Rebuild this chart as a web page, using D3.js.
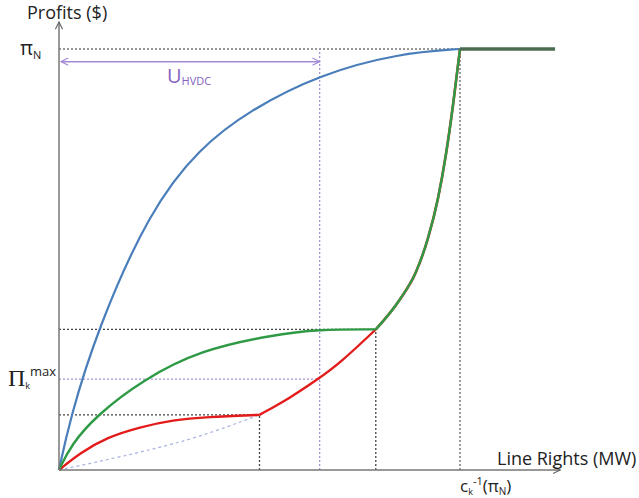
<!DOCTYPE html>
<html>
<head>
<meta charset="utf-8">
<script src="https://cdn.jsdelivr.net/npm/d3@7"></script>
<style>
  html, body { margin: 0; padding: 0; background: #fff; }
  svg { display: block; }
  text { font-family: "Open Sans", "Liberation Sans", sans-serif; fill: #222; }
</style>
</head>
<body>
<svg id="chart" width="639" height="498"></svg>
<script>
// Reference levels (profit units, pi_N = 100) and line-right breakpoints (MW units)
const piN = 100;
const greenPlateau = 33.4;
const piKmax = 21.6;
const redPlateau = 13.1;
const redKneeX = 50;
const uHvdcX = 65;
const greenKneeX = 79;
const capX = 100;
const axisEndX = 125;
const flatEndX = 123.7;

// HVDC profit curve (concave, saturates at pi_N)
const bluePts = [[0,0],[2.7,12],[9.5,33.3],[22.7,61.8],[35,76.5],[47.6,85.5],[65,94],[85,99],[100,100]];
// Merchant line, no cap: concave rise to a plateau, then convex rise
const greenLow = [[0,0],[3,6],[9.5,13.1],[20.9,21.4],[35.2,28.5],[53.4,32.1],[64.6,33.4],[79,33.4]];
const greenHigh = [[79,33.4],[85,40.5],[89,47],[92,55],[94.5,64.5],[96.5,75],[98.3,87],[100,100]];
// Capped merchant line
const redLow = [[0,0],[5.2,4.0],[12,7.8],[20.2,10.2],[28.4,11.9],[36.9,12.6],[50,13.1]];
const redMid = [[50,13.1],[57.6,17.1],[64.6,21.6],[70.1,25.4],[79,33.4]];
// Convex benchmark (dashed)
const dashPts = [[0,0],[10,2],[22,4.6],[35,7.8],[50,13.1]];

const svg = d3.select("#chart");
const x = d3.scaleLinear().domain([0, 100]).range([59, 460]);
const y = d3.scaleLinear().domain([0, 100]).range([470, 49]);

const defs = svg.append("defs");
function marker(id, color, orient) {
  defs.append("marker")
    .attr("id", id).attr("viewBox", "0 0 10 10")
    .attr("refX", 9).attr("refY", 5)
    .attr("markerWidth", 9).attr("markerHeight", 9)
    .attr("markerUnits", "userSpaceOnUse")
    .attr("orient", orient)
    .append("path").attr("d", "M1,1 L9,5 L1,9")
    .attr("fill", "none").attr("stroke", color).attr("stroke-width", 1.3);
}
marker("axArrow", "#666", "auto");
marker("uArrowEnd", "#a58ad6", "auto");
marker("uArrowStart", "#a58ad6", "auto-start-reverse");

const black = "#444", purple = "#a494d8";
function hline(yv, x0, x1, color) {
  svg.append("line").attr("x1", x(x0)).attr("x2", x(x1)).attr("y1", y(yv)).attr("y2", y(yv))
    .attr("stroke", color).attr("stroke-width", 1.3).attr("stroke-dasharray", "2,2");
}
function vline(xv, y0, y1, color) {
  svg.append("line").attr("x1", x(xv)).attr("x2", x(xv)).attr("y1", y(y0)).attr("y2", y(y1))
    .attr("stroke", color).attr("stroke-width", 1.3).attr("stroke-dasharray", "2,2");
}

// guide lines
hline(piN, 0, capX, "#777");
hline(greenPlateau, 0, greenKneeX, black);
hline(piKmax, 0, uHvdcX, purple);
hline(redPlateau, 0, redKneeX, black);
vline(capX, 0, piN, "#666");
vline(greenKneeX, 0, greenPlateau, black);
vline(redKneeX, 0, redPlateau, black);
vline(uHvdcX, 0, piN, purple);

// U_HVDC span arrow
const uY = 97;
svg.append("line").attr("x1", x(0) + 2).attr("x2", x(uHvdcX)).attr("y1", y(uY)).attr("y2", y(uY))
  .attr("stroke", "#a58ad6").attr("stroke-width", 1.5)
  .attr("marker-start", "url(#uArrowStart)").attr("marker-end", "url(#uArrowEnd)");

const smooth = d3.line().x(d => x(d[0])).y(d => y(d[1])).curve(d3.curveBasis);
const mono = d3.line().x(d => x(d[0])).y(d => y(d[1])).curve(d3.curveMonotoneX);

svg.append("path").datum(dashPts).attr("d", smooth).attr("fill", "none")
  .attr("stroke", "#a9b3e0").attr("stroke-width", 1.2).attr("stroke-dasharray", "3,3");

// blue curve + flat
svg.append("path").datum(bluePts).attr("d", smooth).attr("fill", "none")
  .attr("stroke", "#4a7ebb").attr("stroke-width", 2.2);
svg.append("line").attr("x1", x(capX)).attr("x2", x(flatEndX)).attr("y1", y(piN)).attr("y2", y(piN))
  .attr("stroke", "#4a7ebb").attr("stroke-width", 2.2);

// red under green for shared segment
svg.append("path").datum(redLow).attr("d", smooth).attr("fill", "none").attr("stroke", "#e41b1b").attr("stroke-width", 2.4);
svg.append("path").datum(redMid).attr("d", smooth).attr("fill", "none").attr("stroke", "#e41b1b").attr("stroke-width", 2.4);
svg.append("path").datum(greenHigh).attr("d", mono).attr("fill", "none").attr("stroke", "#e41b1b").attr("stroke-width", 2.6);

svg.append("path").datum(greenLow).attr("d", smooth).attr("fill", "none").attr("stroke", "#2e9a45").attr("stroke-width", 2.4);
svg.append("path").datum(greenHigh).attr("d", mono).attr("fill", "none").attr("stroke", "#2e9a45").attr("stroke-width", 2.4);

// saturated flat segment
svg.append("line").attr("x1", x(capX)).attr("x2", x(flatEndX)).attr("y1", y(piN)).attr("y2", y(piN))
  .attr("stroke", "#4d6b4f").attr("stroke-width", 3.5);

// axes
svg.append("line").attr("x1", x(0)).attr("x2", x(0)).attr("y1", y(0)).attr("y2", 22)
  .attr("stroke", "#777").attr("stroke-width", 1.5).attr("marker-end", "url(#axArrow)");
svg.append("line").attr("x1", x(0)).attr("x2", x(axisEndX)).attr("y1", y(0)).attr("y2", y(0))
  .attr("stroke", "#777").attr("stroke-width", 1.5).attr("marker-end", "url(#axArrow)");

// labels
svg.append("text").attr("x", 27).attr("y", 19).attr("font-size", 18).text("Profits ($)");
svg.append("text").attr("x", 497).attr("y", 465).attr("font-size", 18).text("Line Rights (MW)");

const piLab = svg.append("text").attr("x", 20).attr("y", y(piN) + 6).attr("font-size", 20);
piLab.append("tspan").text("π");
piLab.append("tspan").attr("font-size", 11).attr("dy", 4).text("N");

const pkLab = svg.append("text").attr("x", 8).attr("y", y(piKmax) + 7);
pkLab.append("tspan").attr("font-family", "Liberation Serif, serif").attr("font-size", 24).text("Π");
pkLab.append("tspan").attr("font-size", 9).attr("dy", 3).text("k");
pkLab.append("tspan").attr("font-size", 13).attr("dy", -13).text("max");

const cLab = svg.append("text").attr("x", 460).attr("y", 492).attr("font-size", 17);
cLab.append("tspan").text("c");
cLab.append("tspan").attr("font-size", 9).attr("dy", 3).text("k");
cLab.append("tspan").attr("font-size", 11).attr("dy", -10).text("-1");
cLab.append("tspan").attr("dy", 7).text("(π");
cLab.append("tspan").attr("font-size", 10).attr("dy", 3).text("N");
cLab.append("tspan").attr("dy", -3).text(")");

const uLab = svg.append("text").attr("x", 167).attr("y", 83).style("fill", "#8462c0");
uLab.append("tspan").attr("font-size", 20).text("U");
uLab.append("tspan").attr("font-size", 11).attr("dy", 2).text("HVDC");
</script>
</body>
</html>
